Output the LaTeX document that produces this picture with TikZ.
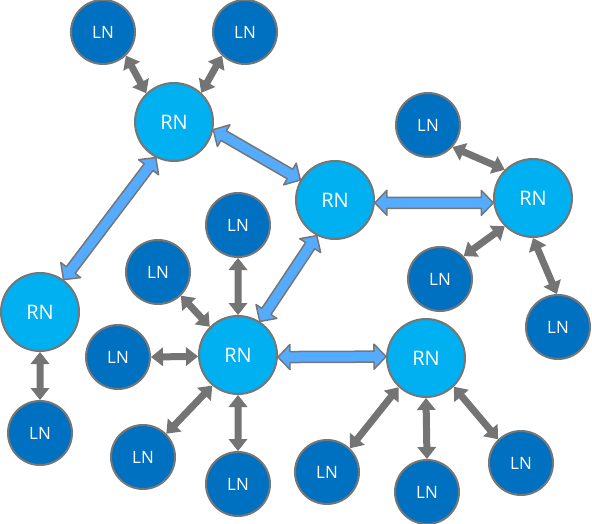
\documentclass[tikz,border=0pt]{standalone}
\usepackage{fontspec}
\setmainfont{Open Sans}
\usetikzlibrary{calc}
\definecolor{rnfill}{HTML}{00B0F0}
\definecolor{lnfill}{HTML}{0070C0}
\definecolor{rim}{HTML}{767676}
\definecolor{linkblue}{HTML}{55ACFF}
\definecolor{linkgray}{HTML}{747474}
\newcommand\linkarrow[6]{%
  \path (#2) coordinate (da) (#3) coordinate (db);
  \path ($(da)!#4!(db)$) coordinate (dp) ($(db)!#4!(da)$) coordinate (dq);
  \draw[#1] (da) -- ($(dp)!#5!90:(db)$) -- ($(dp)!#6!90:(db)$) -- ($(dq)!#6!-90:(da)$) -- ($(dq)!#5!-90:(da)$) -- (db) -- ($(dq)!#5!90:(da)$) -- ($(dq)!#6!90:(da)$) -- ($(dp)!#6!-90:(db)$) -- ($(dp)!#5!-90:(db)$) -- cycle;}
\tikzset{
  rnode/.style={circle, inner sep=0pt, minimum size=78pt, fill=rnfill, draw=rim, line width=2pt, text=white, font=\fontsize{20}{24}\selectfont},
  lnode/.style={circle, inner sep=0pt, minimum size=64pt, fill=lnfill, draw=rim, line width=2pt, text=white, font=\fontsize{17}{20}\selectfont},
  rrlink/.style={fill=linkblue, draw=rim, line width=1.5pt, line join=round},
  lrlink/.style={fill=linkgray, draw=none},
}
\begin{document}
\begin{tikzpicture}[x=1pt,y=-1pt]
\useasboundingbox (0,0) rectangle (592,524);
% remote nodes
\node[rnode] (rn1) at (174,122) {RN};
\node[rnode] (rn2) at (335,200) {RN};
\node[rnode] (rn3) at (533,198) {RN};
\node[rnode] (rn4) at (40,312) {RN};
\node[rnode] (rn5) at (238,355) {RN};
\node[rnode] (rn6) at (426,358) {RN};
% local nodes
\node[lnode] (la) at (103,32) {LN};
\node[lnode] (lb) at (245,32) {LN};
\node[lnode] (lc) at (428,125) {LN};
\node[lnode] (ld) at (440,279) {LN};
\node[lnode] (le) at (558,327) {LN};
\node[lnode] (lf) at (40,433) {LN};
\node[lnode] (lg) at (238,225) {LN};
\node[lnode] (lh) at (158,272) {LN};
\node[lnode] (li) at (118,357) {LN};
\node[lnode] (lj) at (143,457) {LN};
\node[lnode] (lk) at (238,484) {LN};
\node[lnode] (ll) at (327,472) {LN};
\node[lnode] (lm) at (427,492) {LN};
\node[lnode] (ln) at (521,463) {LN};
% RN-RN links
\linkarrow{rrlink}{rn1.-11}{rn2.150}{12pt}{12.5pt}{5.5pt}
\linkarrow{rrlink}{rn1.-117}{rn4.54}{12pt}{12.5pt}{5.5pt}
\linkarrow{rrlink}{rn2.-4}{rn3.-173}{12pt}{12.5pt}{5.5pt}
\linkarrow{rrlink}{rn2.-117}{rn5.57}{12pt}{12.5pt}{5.5pt}
\linkarrow{rrlink}{rn5.-3}{rn6.178}{12pt}{12.5pt}{5.5pt}
% LN-RN links
\linkarrow{lrlink}{la.-46}{rn1.134}{12pt}{9.5pt}{3.5pt}
\linkarrow{lrlink}{lb.-134}{rn1.47}{12pt}{9.5pt}{3.5pt}
\linkarrow{lrlink}{lc.-42}{rn3.135}{12pt}{9.5pt}{3.5pt}
\linkarrow{lrlink}{ld.44}{rn3.-135}{12pt}{9.5pt}{3.5pt}
\linkarrow{lrlink}{le.92}{rn3.-90}{12pt}{9.5pt}{3.5pt}
\linkarrow{lrlink}{rn4.-90}{lf.90}{12pt}{9.5pt}{3.5pt}
\linkarrow{lrlink}{lg.-90}{rn5.90}{12pt}{9.5pt}{3.5pt}
\linkarrow{lrlink}{lh.-46}{rn5.135}{12pt}{9.5pt}{3.5pt}
\linkarrow{lrlink}{li.0}{rn5.182}{12pt}{9.5pt}{3.5pt}
\linkarrow{lrlink}{lj.45}{rn5.-130}{12pt}{9.5pt}{3.5pt}
\linkarrow{lrlink}{rn5.-90}{lk.90}{12pt}{9.5pt}{3.5pt}
\linkarrow{lrlink}{rn6.-133}{ll.46}{12pt}{9.5pt}{3.5pt}
\linkarrow{lrlink}{rn6.-90}{lm.90}{12pt}{9.5pt}{3.5pt}
\linkarrow{lrlink}{rn6.-46}{ln.134}{12pt}{9.5pt}{3.5pt}
\end{tikzpicture}
\end{document}
